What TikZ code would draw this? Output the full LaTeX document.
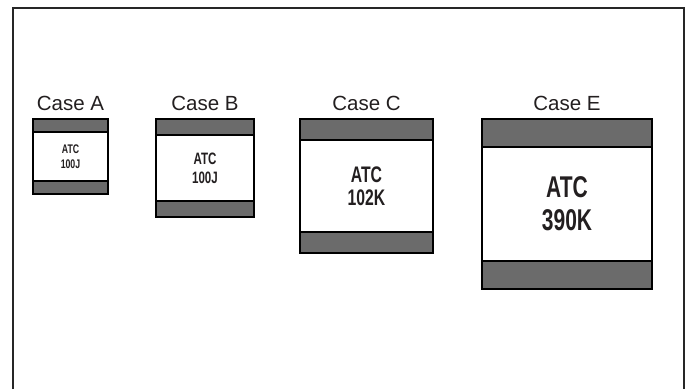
\documentclass[tikz,border=0pt]{standalone}
\usepackage{fontspec}
\setmainfont{Liberation Sans}
\newfontfamily\chipfont[FakeStretch=0.7]{Liberation Sans}
\usepackage{tikz}
\usetikzlibrary{calc}
\definecolor{bandgray}{HTML}{6B6B6B}
\definecolor{inkgray}{HTML}{231F20}
\tikzset{
  frameline/.style={draw=black!85, line width=1.2pt},
  chip/.style={draw=black, line width=1.8pt},
  band/.style={fill=bandgray, draw=black, line width=1.8pt},
  caselabel/.style={anchor=base, inner sep=0pt, text=inkgray, font=\fontsize{20.5}{24}\selectfont},
  chiptext/.style={align=center, inner sep=0pt, text=inkgray}
}

\begin{document}
\begin{tikzpicture}[x=1pt,y=-1pt]
\useasboundingbox (0,0) rectangle (690,389);
\draw[frameline] (13,389) coordinate(FL) -- (13,8) -- (684,8) -- (684,389) coordinate(FR);
\foreach \nm/\val/\xa/\xb/\yb/\bd/\fs/\lk in {A/100J/33/108/194/13/12.5/15, B/100J/156/254/217/16/16.5/19, C/102K/300/433/253/21/22.5/23, E/390K/482/652/289/28/30/33}{
  \coordinate (\nm-tl) at (\xa,119);
  \coordinate (\nm-br) at (\xb,\yb);
  \fill[white] (\nm-tl) rectangle (\nm-br);
  \draw[band] (\nm-tl) rectangle ({\xb},{119+\bd});
  \draw[band] ({\xa},{\yb-\bd}) rectangle (\nm-br);
  \draw[chip] (\nm-tl) rectangle (\nm-br);
  \node[caselabel] (lab\nm) at ({(\xa+\xb)/2},110) {Case \nm};
  \node[chiptext, font=\chipfont\bfseries\fontsize{\fs}{\lk}\selectfont] (txt\nm) at ($(\nm-tl)!0.5!(\nm-br)$) {ATC\\\val};
}
\end{tikzpicture}
\end{document}
